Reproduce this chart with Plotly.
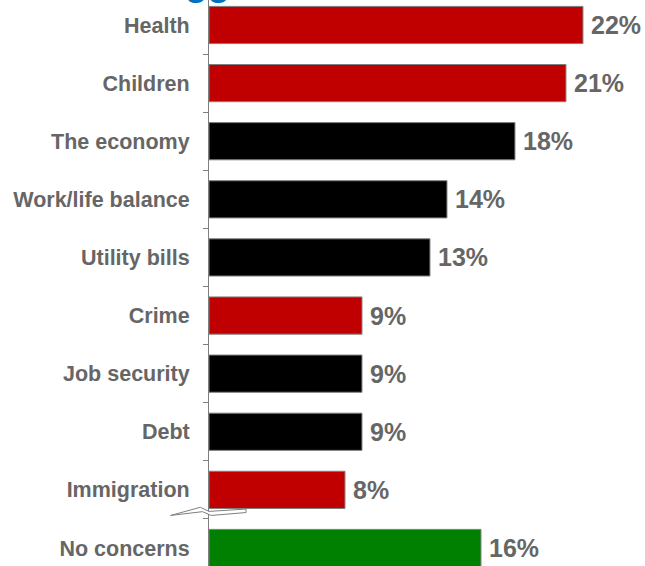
import plotly.graph_objects as go

categories = ["Health", "Children", "The economy", "Work/life balance", "Utility bills",
              "Crime", "Job security", "Debt", "Immigration", "No concerns"]
values = [22, 21, 18, 14, 13, 9, 9, 9, 8, 16]
value_labels = ["22%", "21%", "18%", "14%", "13%", "9%", "9%", "9%", "8%", "16%"]
bar_colors = ["#C00000", "#C00000", "#000000", "#000000", "#000000",
              "#C00000", "#000000", "#000000", "#C00000", "#008000"]

FONT = "Liberation Sans, Arial, sans-serif"
GRAY = "#666666"

fig = go.Figure()
fig.add_trace(go.Bar(
    y=categories, x=values, orientation="h",
    marker=dict(color=bar_colors, line=dict(color="#7f7f7f", width=1)),
    text=value_labels, texttemplate="\u2009%{text}", textposition="outside",
    textfont=dict(family=FONT, size=25, color=GRAY, weight="bold"),
    cliponaxis=False, width=0.64, hoverinfo="skip",
))

# axis break symbol between Immigration and No concerns
fig.add_shape(
    type="path", xref="paper", yref="y",
    path="M -0.088 8.44 L -0.02 8.30 L 0.0 8.37 L 0.085 8.33 L 0.085 8.39 L 0.005 8.44 L -0.015 8.375 Z",
    fillcolor="white", line=dict(color="#7f7f7f", width=1), layer="above",
)

# partially visible title above the chart
fig.add_annotation(
    text="Biggest concerns", xref="paper", yref="paper", x=-0.145, y=1.0,
    xanchor="left", yanchor="bottom", yshift=-5, showarrow=False,
    font=dict(family=FONT, size=37, color="#0070C0", weight="bold"),
)

fig.update_layout(
    width=645, height=566,
    margin=dict(l=209, r=0, t=0, b=0, autoexpand=False),
    paper_bgcolor="white", plot_bgcolor="white",
    showlegend=False,
    xaxis=dict(range=[0, 25.65], visible=False, showgrid=False, zeroline=False,
               automargin=False),
    yaxis=dict(
        range=[9.31, -0.43], type="category", automargin=False,
        showline=True, linecolor="#7f7f7f", linewidth=1,
        ticks="outside", ticklen=5, tickcolor="#7f7f7f", tickson="boundaries",
        ticklabelstandoff=14,
        tickfont=dict(family=FONT, size=21.5, color=GRAY, weight="bold"),
        showgrid=False, zeroline=False,
    ),
    font=dict(family=FONT, color=GRAY),
)

fig.write_html("out.html", config={"displayModeBar": False},
               post_script="document.body.style.margin='0';")
